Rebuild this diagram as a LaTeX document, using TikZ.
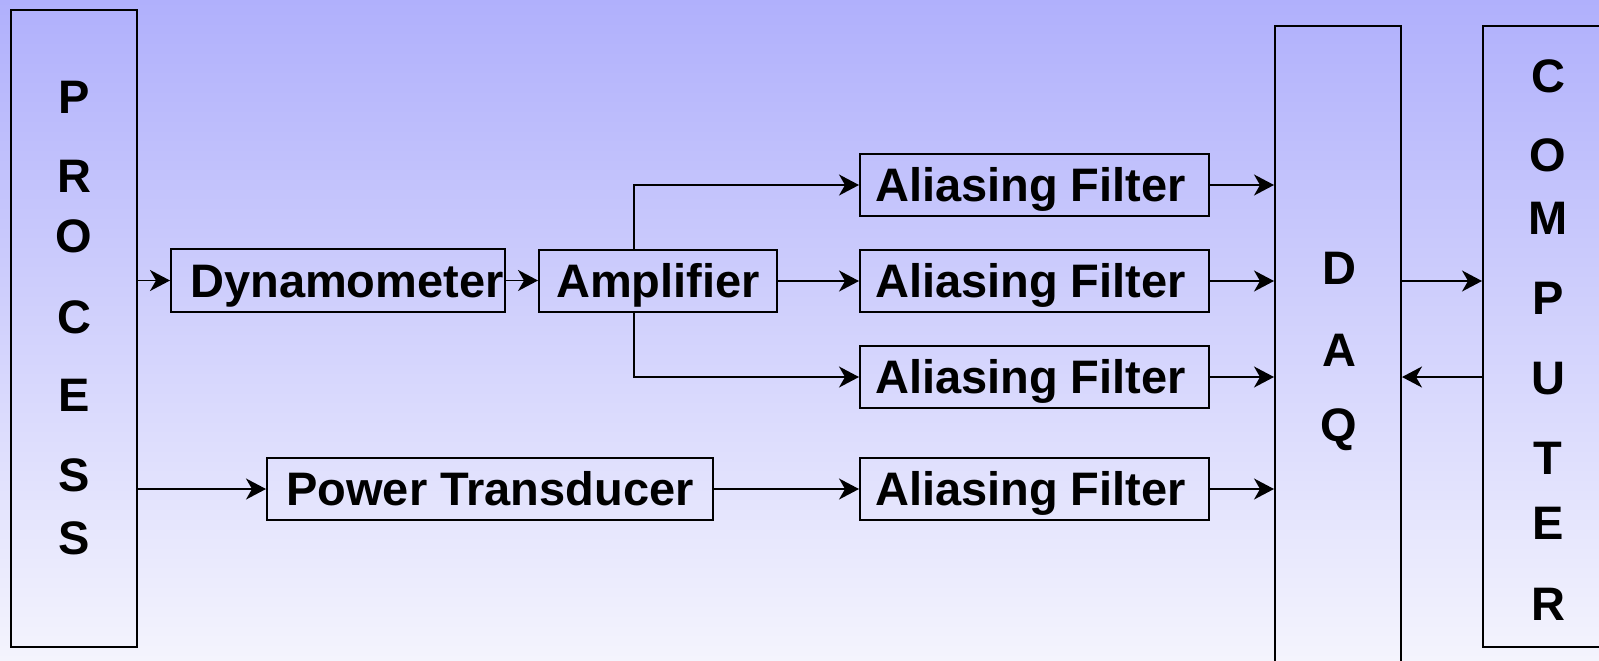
\documentclass[tikz,border=0pt]{standalone}
\usepackage{fontspec}
\setmainfont{Liberation Sans}
\usetikzlibrary{arrows.meta,calc}

\definecolor{bgtop}{RGB}{176,176,252}
\definecolor{bgbot}{RGB}{244,244,253}

\tikzset{
  blk/.style={draw=black, line width=1pt, inner sep=0pt,
    font=\fontsize{23.5}{28}\selectfont\bfseries,
    text height=16.8pt, text depth=0pt},
  filt/.style={blk, minimum width=174.5pt, minimum height=31pt},
  letter/.style={inner sep=0pt, font=\fontsize{23.5}{28}\selectfont\bfseries,
    text height=16.8pt, text depth=0pt},
  conn/.style={line width=0.85pt, -{Stealth[length=10pt,width=10.5pt,inset=3pt]}}
}

\begin{document}
\begin{tikzpicture}[x=0.5pt, y=-0.5pt]
  \useasboundingbox (0,0) rectangle (1599,660);
  \shade[top color=bgtop, bottom color=bgbot] (0,0) rectangle (1599,660);
  \clip (0,0) rectangle (1599,660);

  % tall blocks
  \node[blk, minimum width=63pt, minimum height=318.5pt] (proc) at (74,328.5) {};
  \node[blk, minimum width=63pt, minimum height=327pt] (daq) at (1338,353) {};
  \node[blk, minimum width=68.5pt, minimum height=310.5pt] (comp) at (1551.5,336.5) {};

  % vertical lettering
  \foreach \ch/\yy [count=\i] in {P/97,R/176,O/236,C/317,E/395,S/475,S/538}
    \node[letter] (proc-l\i) at (74,\yy) {\ch};
  \foreach \ch/\yy [count=\i] in {D/268,A/350,Q/425}
    \node[letter] (daq-l\i) at (1339,\yy) {\ch};
  \foreach \ch/\yy [count=\i] in {C/76,O/155,M/218,P/298,U/378,T/458,E/523,R/604}
    \node[letter] (comp-l\i) at (1548,\yy) {\ch};

  % signal chain blocks
  \node[blk, minimum width=167pt, minimum height=31.5pt] (dyn) at (338,280.5) {\hspace*{9pt}Dynamometer};
  \node[blk, minimum width=119pt, minimum height=31pt] (amp) at (658,281) {Amplifier};
  \node[blk, minimum width=223pt, minimum height=31pt] (pwr) at (490,489) {Power Transducer};
  \node[filt] (f1) at (1034.5,185) {Aliasing Filter\hspace*{4pt}};
  \node[filt] (f2) at (1034.5,281) {Aliasing Filter\hspace*{4pt}};
  \node[filt] (f3) at (1034.5,377) {Aliasing Filter\hspace*{4pt}};
  \node[filt] (f4) at (1034.5,489) {Aliasing Filter\hspace*{4pt}};

  % connectors
  \draw[conn] (proc.east |- dyn) -- (dyn.west);
  \draw[conn] (proc.east |- pwr) -- (pwr.west);
  \draw[conn] (dyn.east) -- (amp.west |- dyn);
  \draw[conn] ([xshift=-12pt]amp.north) |- (f1.west);
  \draw[conn] (amp.east) -- (f2.west);
  \draw[conn] ([xshift=-12pt]amp.south) |- (f3.west);
  \draw[conn] (pwr.east) -- (f4.west);
  \foreach \f in {f1,f2,f3,f4}
    \draw[conn] (\f.east) -- (daq.west |- \f);
  \draw[conn] (daq.east |- f2) -- (comp.west |- f2);
  \draw[conn] (comp.west |- f3) -- (daq.east |- f3);
\end{tikzpicture}
\end{document}
